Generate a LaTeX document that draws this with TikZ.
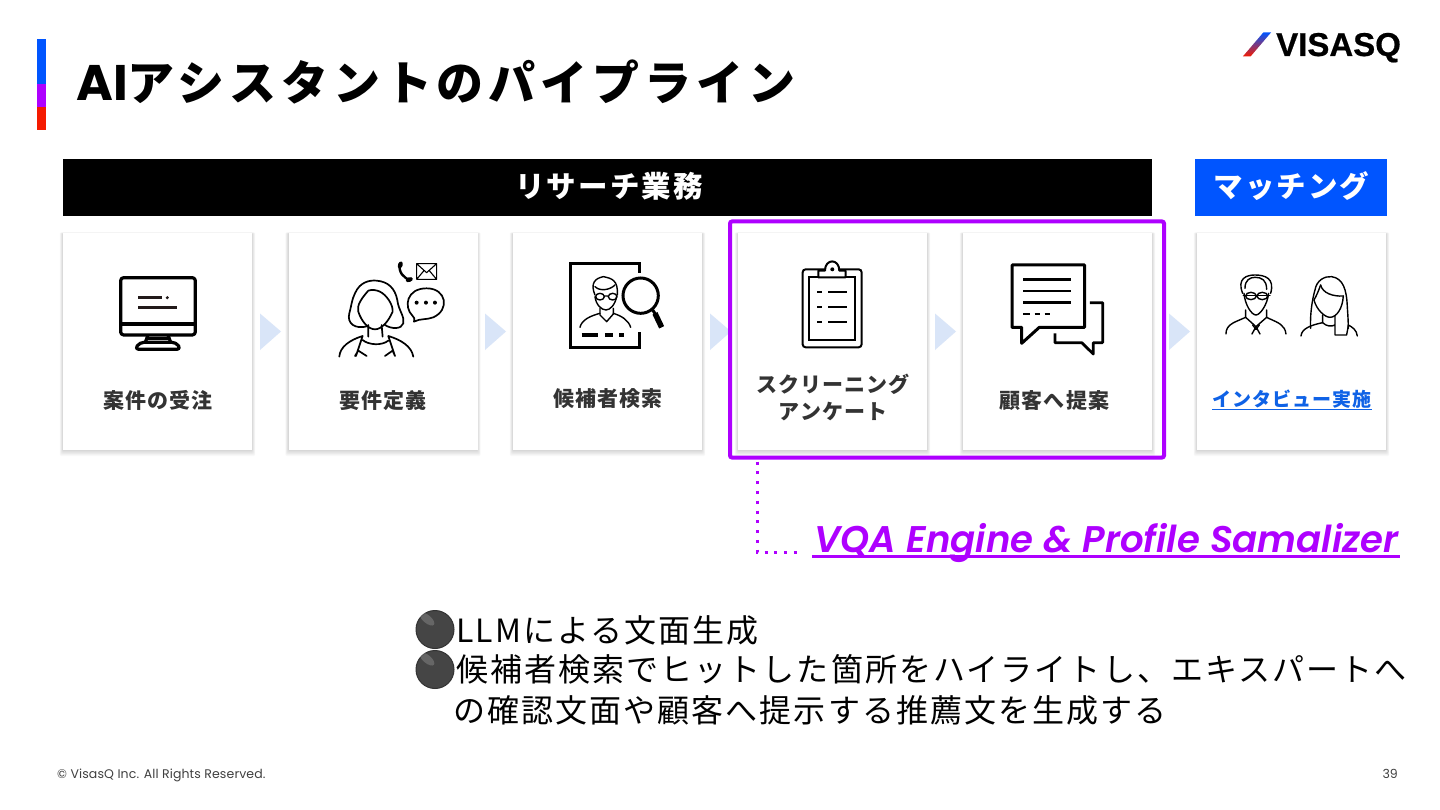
\documentclass[tikz,border=0pt]{standalone}
\usepackage{fontspec}
\setmainfont{Poppins}
\newfontfamily\jp{Noto Sans CJK JP}
\newfontfamily\pop{Poppins}
\newfontface\vqaf{Poppins SemiBold Italic}
\newfontfamily\djv{DejaVu Sans}
\newfontfamily\logofont{Liberation Sans}
\definecolor{vblue}{HTML}{0055FF}
\definecolor{vpurple}{HTML}{AE00FF}
\definecolor{vred}{HTML}{F51A00}
\definecolor{tri}{HTML}{D9E5F8}
\definecolor{lab}{HTML}{333333}
\definecolor{linkc}{HTML}{0F62E6}
\definecolor{monl}{HTML}{221A1A}
\definecolor{ballc}{HTML}{454545}
\definecolor{ballb}{HTML}{333333}
\newcommand{\cardbox}[2]{%
  \foreach \i in {8,7,6,5,4,3,2,1}{\fill[black,opacity=0.02,rounded corners=1pt] (#2-94.5-\i*0.4,233.5-\i*0.15) rectangle (#2+94.5+\i*0.4,450+\i*0.75);}
  \node[cardnode] (#1) at (#2,341.5) {};}
\newcommand{\chev}[1]{\fill[tri] (#1,313.5) -- (#1+21,331.5) -- (#1,350) -- cycle;}
\tikzset{
  x=1pt,y=-1pt,
  cardnode/.style={fill=white,minimum width=189pt,minimum height=217pt,inner sep=0pt},
  lbl/.style={font=\jp\bfseries\fontsize{21}{25}\selectfont\addfontfeature{LetterSpace=5},text=lab,anchor=base,inner sep=0pt},
  head/.style={font=\jp\bfseries\fontsize{29.5}{34}\selectfont\addfontfeature{LetterSpace=7},text=white,anchor=base,inner sep=0pt},
  bodyt/.style={font=\jp\fontsize{32}{38}\selectfont\addfontfeature{LetterSpace=6.5},text=black,anchor=base west,inner sep=0pt},
  bullet/.style={circle,fill=ballc,draw=ballb,line width=1pt,minimum size=38pt,inner sep=0pt,text=ballc,font=\djv\fontsize{22}{24}\selectfont},
  sheen/.style={fill=white,opacity=0.18},
  icon/.style={line width=1.1pt,black,line cap=round,line join=round},
  iconb/.style={line width=3.2pt,black,line join=round},
}
\begin{document}
\begin{tikzpicture}
\useasboundingbox (0,0) rectangle (1440,810);
\fill[white] (0,0) rectangle (1440,810);
% side bar
\fill[vblue] (37,39) rectangle (46,84);
\fill[vpurple] (37,84) rectangle (46,107);
\fill[vred] (37,107) rectangle (46,130);
% title
\node[anchor=base west,inner sep=0pt] (title) at (76,101) {{\pop\bfseries\fontsize{50}{52}\selectfont AI}{\jp\bfseries\fontsize{47}{50}\selectfont\addfontfeature{LetterSpace=10.3}アシスタントのパイプライン}};
% logo
\shade[top color=vblue,middle color=vpurple,bottom color=vred] (1263.3,32.5) -- (1271,32.5) -- (1250.5,56.5) -- (1242.8,56.5) -- cycle;
\node[anchor=base west,inner sep=0pt] (logo) at (1276,56) {\logofont\bfseries\fontsize{33}{36}\selectfont\addfontfeature{FakeBold=0.6}VISASQ};
% headers
\node[fill=black,minimum width=1089pt,minimum height=57pt,inner sep=0pt] (bar1) at (607.5,187.5) {};
\node[fill=vblue,minimum width=192pt,minimum height=57pt,inner sep=0pt] (bar2) at (1291,187.5) {};
\node[head] (h1) at (609,198) {リサーチ業務};
\node[head] (h2) at (1291.5,198) {マッチング};
% cards
\cardbox{c1}{157.5}
\cardbox{c2}{383}
\cardbox{c3}{607.5}
\cardbox{c4}{832.5}
\cardbox{c5}{1057.5}
\cardbox{c6}{1291.5}
% chevrons
\chev{260}\chev{485}\chev{710}\chev{935}\chev{1169}
% frame
\node[draw=vpurple,line width=4pt,rounded corners=2pt,minimum width=434pt,minimum height=236pt,inner sep=0pt] (frame) at (947,339.5) {};
% labels
\node[lbl] (l1) at (158,408) {案件の受注};
\node[lbl] (l2) at (383,408) {要件定義};
\node[lbl] (l3) at (608,406) {候補者検索};
\node[lbl] (l4a) at (833,392) {スクリーニング};
\node[lbl] (l4b) at (833,419) {アンケート};
\node[lbl] (l5) at (1054.5,408) {顧客へ提案};
\node[lbl,text=linkc,font=\jp\bfseries\fontsize{19}{23}\selectfont\addfontfeature{LetterSpace=5}] (l6) at (1292,406) {インタビュー実施};
\draw[linkc,line width=1.4pt] ([yshift=-3.5pt]l6.base west) -- ([yshift=-3.5pt]l6.base east);
% ICONS
% monitor
\begin{scope}[shift={(60,230)},x=0.3333pt,y=-0.3333pt]
\draw[iconb,rounded corners=3pt] (182,143) rectangle (406,315);
\draw[iconb] (182,282) -- (406,282);
\draw[iconb] (264,315) -- (256,337) (324,315) -- (332,337);
\draw[iconb] (258,325) -- (330,325);
\draw[iconb,rounded corners=4pt] (224,358) -- (240,337) -- (348,337) -- (363,358) -- cycle;
\draw[line width=2.8pt,monl] (235,203) -- (305,203) (235,232) -- (352,232);
\fill[monl] (322,203) circle (5);
% woman
\begin{scope}[icon,line width=1.7pt]
\draw (925,288) .. controls (885,300) and (860,280) .. (868,250) .. controls (875,225) and (875,210) .. (885,190) .. controls (900,155) and (930,150) .. (950,152) .. controls (985,155) and (1005,175) .. (1012,210) .. controls (1015,240) and (1035,260) .. (1030,280) .. controls (1025,298) and (995,298) .. (975,285);
\draw (925,182) .. controls (905,205) and (890,225) .. (895,245) .. controls (905,275) and (925,298) .. (945,298) .. controls (965,298) and (985,275) .. (998,245) .. controls (1000,225) and (980,195) .. (960,185) .. controls (950,180) and (935,178) .. (925,182);
\draw (925,285) -- (925,320) (965,285) -- (968,320);
\draw (908,330) .. controls (925,345) and (965,348) .. (985,332);
\draw (838,380) .. controls (840,350) and (870,330) .. (908,318) -- (888,378) (885,378) -- (895,362) -- (920,378);
\draw (1060,380) .. controls (1055,350) and (1025,330) .. (985,318) -- (1005,378) (975,378) -- (998,362) -- (1005,378);
\draw[line width=1.1pt] (1070,101) rectangle (1130,148) (1070,101) -- (1100,128) -- (1130,101) (1070,148) -- (1092,122) (1130,148) -- (1108,122);
\draw[line width=1.7pt] (1062,275) .. controls (1065,265) and (1062,262) .. (1058,258) .. controls (1030,230) and (1040,175) .. (1100,175) .. controls (1160,175) and (1170,240) .. (1120,262) .. controls (1100,270) and (1080,265) .. cycle;
\fill (1070,218) circle (6) (1098,218) circle (6) (1125,218) circle (6);
\draw[line width=2.4pt] (1020,100) .. controls (1014,125) and (1030,145) .. (1052,150);
\fill[rotate around={-20:(1021,105)}] (1021,105) ellipse (7 and 11);
\fill[rotate around={-70:(1048,149)}] (1048,149) ellipse (7 and 11);
\end{scope}
\end{scope}
% magnifier person
\begin{scope}[shift={(500,230)},x=0.3333pt,y=-0.3333pt]
\draw[iconb,line join=miter] (418,128) -- (418,101) -- (211,101) -- (211,353) -- (418,353) -- (418,305);
\begin{scope}[icon,line width=1.4pt]
\draw (285,195) .. controls (270,160) and (285,145) .. (310,140) .. controls (335,145) and (355,150) .. (352,195);
\draw (285,170) .. controls (300,185) and (330,180) .. (345,165);
\draw (285,200) .. controls (288,225) and (305,240) .. (318,240) .. controls (330,240) and (345,225) .. (350,200);
\draw (300,200) ellipse (13 and 10) (338,200) ellipse (13 and 10) (313,198) -- (325,198);
\draw (300,235) -- (300,255) -- (320,275) -- (340,252) -- (340,235);
\draw (240,292) .. controls (245,270) and (270,258) .. (300,250) (392,292) .. controls (385,270) and (365,258) .. (340,250);
\end{scope}
\draw[line width=3pt,black,fill=white] (422,197) circle (53);
\draw[line width=3pt,black] (458,240) -- (470,258);
\draw[line width=5.5pt,black] (465,250) -- (485,292);
\draw[line width=3.4pt,black] (245,315) -- (295,315) (315,315) -- (340,315) (358,315) -- (372,315);
% clipboard
\draw[line width=2pt,black,rounded corners=3pt] (908,118) rectangle (1085,352);
\draw[line width=2pt,black] (955,140) -- (928,140) -- (928,330) -- (1066,330) -- (1066,140) -- (1035,140);
\draw[line width=2pt,black,fill=white,line join=round] (955,142) -- (955,122) -- (975,122) .. controls (975,85) and (1018,85) .. (1018,122) -- (1037,122) -- (1037,142) -- cycle;
\fill (997,118) circle (6);
\draw[line width=2.2pt] (952,185) -- (966,185) (985,185) -- (1042,185) (952,232) -- (966,232) (985,232) -- (1042,232) (952,277) -- (966,277) (985,277) -- (1042,277);
\end{scope}
% chat and people
\begin{scope}[shift={(950,230)},x=0.3333pt,y=-0.3333pt]
\draw[line width=3pt,black,line join=round] (186,105) -- (404,105) -- (404,292) -- (268,292) -- (215,340) -- (215,292) -- (186,292) -- cycle;
\draw[line width=2.8pt] (220,148) -- (362,148) (220,183) -- (362,183) (220,218) -- (362,218);
\draw[line width=2.8pt] (220,252) -- (240,252) (254,252) -- (270,252) (284,252) -- (300,252);
\draw[line width=2.8pt,line join=round] (420,218) -- (458,218) -- (458,338) -- (430,338) -- (430,372) -- (395,338) -- (315,338) -- (315,310);
\begin{scope}[icon,line width=1.4pt]
% man
\draw (878,190) .. controls (860,145) and (890,135) .. (915,135) .. controls (945,135) and (975,145) .. (962,190) (885,175) .. controls (885,150) and (900,142) .. (915,142) .. controls (935,142) and (950,150) .. (950,178);
\draw (882,190) .. controls (885,225) and (905,255) .. (918,255) .. controls (930,255) and (952,225) .. (956,190);
\draw (880,197) -- (960,197);
\draw (903,198) ellipse (16 and 11) (937,198) ellipse (16 and 11);
\draw (887,240) -- (887,262) -- (918,290) -- (950,262) -- (950,240);
\draw (828,312) .. controls (828,285) and (850,278) .. (878,266) -- (887,262) (1008,312) .. controls (1005,285) and (985,278) .. (958,266) -- (950,262);
\draw (918,290) -- (906,312) (918,290) -- (930,312) (908,285) -- (918,298) -- (928,285);
% woman
\draw (1082,295) .. controls (1080,260) and (1085,215) .. (1095,180) .. controls (1100,150) and (1125,138) .. (1145,140) .. controls (1180,145) and (1190,180) .. (1192,230) .. controls (1194,260) and (1195,275) .. (1195,295);
\draw (1112,165) .. controls (1118,190) and (1150,200) .. (1180,198);
\draw (1112,165) .. controls (1105,185) and (1098,200) .. (1092,210) .. controls (1100,240) and (1125,262) .. (1140,262) .. controls (1160,262) and (1178,235) .. (1180,198);
\draw (1118,255) -- (1118,278) .. controls (1130,290) and (1145,290) .. (1155,285) (1155,258) -- (1155,315) -- (1190,315) .. controls (1192,300) and (1195,295) .. (1195,285);
\draw (1053,318) .. controls (1055,295) and (1085,285) .. (1118,278) (1222,318) .. controls (1220,300) and (1208,292) .. (1195,285);
\end{scope}
\end{scope}
% dotted link
\coordinate (d1) at (757,552);
\coordinate (d2) at (797,552);
\draw[vpurple,line width=3pt,dash pattern=on 3pt off 6.8pt] ([xshift=-190pt,yshift=-2pt]frame.south) -- (d1) -- (d2);
% VQA
\node[anchor=base west,inner sep=0pt,text=vpurple] (vqa) at (814,552) {\vqaf\fontsize{37.1}{44}\selectfont VQA Engine \& Profile Samalizer};
\draw[vpurple,line width=3pt] (812,556.5) -- (1400,556.5);
% body
\node[bullet] (b1) at (435,629.5) {⚫};
\node[bullet] (b2) at (435,669.5) {⚫};
\fill[sheen,rotate around={-40:(427,619)}] (427,619) ellipse (9 and 4);
\fill[sheen,rotate around={-40:(427,659)}] (427,659) ellipse (9 and 4);
\node[bodyt] (t1) at (456,642) {LLMによる文面生成};
\node[bodyt] (t2) at (456,681) {候補者検索でヒットした箇所をハイライトし、エキスパートへ};
\node[bodyt] (t3) at (453,722) {の確認文面や顧客へ提示する推薦文を生成する};
% footer
\node[anchor=base west,inner sep=0pt,text=black!75] (foot) at (57,778) {\pop\fontsize{12.5}{15}\selectfont\addfontfeature{LetterSpace=1}© VisasQ Inc. All Rights Reserved.};
\node[anchor=base east,inner sep=0pt,text=black!75] (pg) at (1398,778) {\pop\fontsize{12.5}{15}\selectfont 39};
\end{tikzpicture}
\end{document}
